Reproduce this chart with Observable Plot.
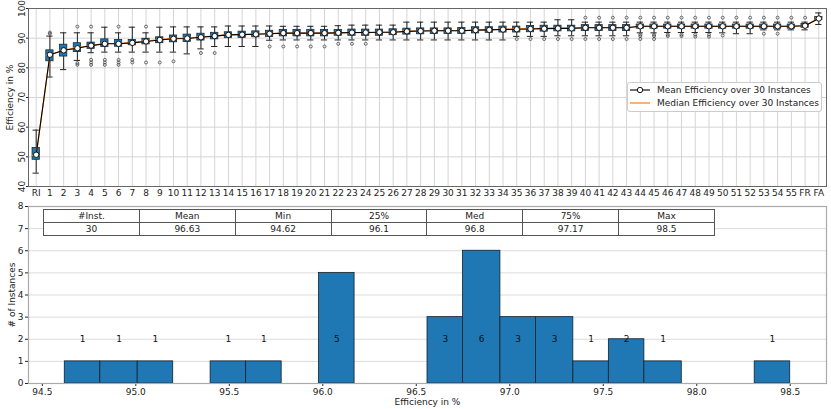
<!DOCTYPE html>
<html>
<head>
<meta charset="utf-8">
<script src="https://cdn.jsdelivr.net/npm/d3@7"></script>
<script src="https://cdn.jsdelivr.net/npm/@observablehq/plot@0.6"></script>
<style>
  body { margin: 0; background: #fff; font-family: "DejaVu Sans", sans-serif; }
  #wrap { position: relative; width: 831px; height: 409px; overflow: hidden; }
  #wrap svg { display: block; }
  #legend { position: absolute; left: 627px; top: 82px; width: 195px; height: 30px; box-sizing: border-box;
    border: 1px solid #ccc; border-radius: 3px; background: rgba(255,255,255,0.9); font-size: 9px; color: #222; }
  #legend .row { position: absolute; left: 2px; height: 12px; display: flex; align-items: center; }
  #legend .row span { margin-left: 7px; white-space: nowrap; }
  #stats { position: absolute; left: 43px; top: 209px; width: 672px; border-collapse: collapse; font-size: 9px; color: #222; background: #fff; table-layout: fixed; }
  #stats td { border: 1px solid #555; text-align: center; height: 12px; padding: 0; line-height: 12px; }
</style>
</head>
<body>
<div id="wrap"></div>
<script>
// ---------- top chart data ----------
const cats = ["RI","1","2","3","4","5","6","7","8","9","10","11","12","13","14","15","16","17","18","19","20",
  "21","22","23","24","25","26","27","28","29","30","31","32","33","34","35","36","37","38","39","40",
  "41","42","43","44","45","46","47","48","49","50","51","52","53","54","55","FR","FA"];
const whiskLo = [44.5,76.9,79.4,82.5,85.1,85.3,85.3,85.3,85.3,85.3,85.3,
  84.7,86.4,87.2,87.2,87.2,87.2,89.3,89.4,89.4,89.4,
  89.4,89.4,89.4,89.4,89.4,89.4,89.4,89.4,89.4,89.4,
  89.4,89.4,89.4,89.4,90.6,90.6,90.6,90.8,90.8,90.8,
  90.8,90.8,90.8,91.8,91.8,91.9,91.9,91.9,91.9,91.8,
  91.5,91.5,92.8,92.8,92.8,92.8,94.62];
const q1 = [49.0,82.2,83.8,85.3,86.4,87.0,87.1,87.6,87.9,88.3,88.6,
  88.7,89.2,89.6,90.0,90.1,90.3,90.4,90.6,90.6,90.6,
  90.6,90.8,90.8,90.8,90.8,91.0,91.2,91.3,91.4,91.4,
  91.4,91.6,91.8,91.9,91.9,92.0,92.2,92.3,92.3,92.4,
  92.4,92.4,92.4,93.2,93.2,93.2,93.2,93.2,93.2,93.2,
  93.2,93.2,93.2,93.2,93.2,93.5,96.1];
const med = [50.5,84.3,86.0,86.8,87.5,88.2,88.2,88.6,89.0,89.5,89.9,
  90.0,90.4,90.8,91.2,91.3,91.4,91.5,91.7,91.7,91.7,
  91.7,91.8,91.9,91.9,92.0,92.0,92.4,92.4,92.5,92.5,
  92.5,92.7,92.9,93.0,93.1,93.2,93.3,93.4,93.4,93.6,
  93.6,93.6,93.6,94.0,94.0,94.0,94.0,94.0,94.0,94.0,
  94.0,94.0,94.0,94.0,94.0,94.2,96.8];
const q3 = [53.0,85.9,87.8,88.3,88.5,89.6,89.4,89.4,89.8,90.3,90.9,
  91.2,91.5,91.8,92.0,92.2,92.3,92.5,92.8,92.8,92.8,
  92.8,92.8,92.9,92.9,92.9,93.0,93.2,93.3,93.3,93.3,
  93.4,93.7,93.7,93.9,93.9,94.1,94.2,94.2,94.2,94.4,
  94.4,94.4,94.4,94.6,94.6,94.6,94.6,94.6,94.6,94.6,
  94.6,94.6,94.6,94.6,94.6,94.8,97.17];
const whiskHi = [59.0,90.7,91.8,91.8,91.8,93.7,91.8,93.7,91.8,93.7,93.8,
  93.8,93.8,93.8,94.1,94.1,94.1,94.1,94.0,94.0,94.0,
  94.0,94.2,94.4,94.4,94.4,94.4,95.4,95.4,95.4,95.4,
  95.4,95.4,95.4,95.4,95.4,95.4,95.4,96.2,96.2,95.4,
  95.4,95.4,95.4,95.4,95.4,95.4,95.4,95.4,95.4,95.4,
  95.4,95.4,95.4,95.4,95.4,95.4,98.5];
const meanEff = [50.7,84.4,85.9,86.6,87.5,88.1,88.1,88.4,88.9,89.4,89.8,
  89.9,90.3,90.7,91.1,91.2,91.3,91.5,91.7,91.7,91.7,
  91.7,91.8,91.9,91.9,92.0,92.0,92.3,92.4,92.5,92.5,
  92.5,92.7,92.8,92.9,93.0,93.1,93.2,93.3,93.3,93.5,
  93.5,93.5,93.5,94.0,94.0,94.0,94.0,94.0,94.0,94.0,
  94.0,94.0,94.0,94.0,94.0,94.2,96.63];
const outliers = [[],[91.5,91.9],[],[93.9,81.6,81.0],[93.9,82.7,81.8,81.0],[82.7,81.8,81.0],[93.9,82.7,81.8,81.0],[82.7,81.8],[93.9,81.8],[81.8],[82.2],
  [],[85.0],[85.0],[],[],[],[87.2],[87.2],[87.2],[87.2],
  [87.2],[88.1],[88.1],[88.1],[],[],[],[],[],[],
  [],[],[],[],[89.7],[89.7],[89.7],[89.7],[89.7],[96.9,89.7],
  [96.9,89.7],[96.9,89.7],[96.9,89.7],[96.9,91.2,90.7,89.7],[96.9,91.2,90.7,89.7],[96.9,91.2,90.7],[96.9,91.2,90.7],[96.9,91.2,90.5],[96.9,91.2,90.5],[96.9,90.9],
  [96.9],[96.9],[96.9,91.5],[96.9,91.5],[96.9],[96.9],[]];
const yTicksTop = [40,50,60,70,80,90,100];

// ---------- histogram data ----------
const binLo = [94.62,94.81,95.01,95.20,95.40,95.59,95.78,95.98,96.17,96.37,96.56,96.75,96.95,97.14,97.34,97.53,97.72,97.92,98.11,98.31];
const binHi = [94.81,95.01,95.20,95.40,95.59,95.78,95.98,96.17,96.37,96.56,96.75,96.95,97.14,97.34,97.53,97.72,97.92,98.11,98.31,98.50];
const counts = [1,1,1,0,1,1,0,5,0,0,3,6,3,3,1,2,1,0,0,1];
const xTicksBot = [94.5,95.0,95.5,96.0,96.5,97.0,97.5,98.0,98.5];
const yTicksBot = [0,1,2,3,4,5,6,7,8];
const tableHead = ["#Inst.","Mean","Min","25%","Med","75%","Max"];
const tableVals = ["30","96.63","94.62","96.1","96.8","97.17","98.5"];

const rows = cats.map((c,i)=>({cat:c, lo:whiskLo[i], q1:q1[i], med:med[i], q3:q3[i], hi:whiskHi[i], mean:meanEff[i]}));
const outRows = outliers.flatMap((a,i)=>a.map(v=>({cat:cats[i], v})));
const bins = binLo.map((x0,i)=>({x0, x1:binHi[i], n:counts[i]})).filter(d=>d.n>0);

const font = {fontFamily:"DejaVu Sans", fontSize:"9px", color:"#222", background:"#fff"};

const topChart = Plot.plot({
  width: 831, height: 200,
  marginLeft: 28, marginRight: 5, marginTop: 8, marginBottom: 14,
  style: font,
  x: {type:"band", domain: cats, paddingInner: 0.47, paddingOuter: 0.295, label: null},
  y: {domain:[40,100], label: null},
  marks: [
    Plot.gridX({stroke:"#d5d5d5", strokeOpacity:1, strokeWidth:1}),
    Plot.gridY({ticks: yTicksTop, stroke:"#d5d5d5", strokeOpacity:1, strokeWidth:1}),
    Plot.ruleX(rows, {x:"cat", y1:"lo", y2:"hi", stroke:"#222", strokeWidth:1}),
    Plot.tickY(rows, {x:"cat", y:"lo", stroke:"#222", insetLeft:0.5, insetRight:0.5}),
    Plot.tickY(rows, {x:"cat", y:"hi", stroke:"#222", insetLeft:0.5, insetRight:0.5}),
    Plot.barY(rows, {x:"cat", y1:"q1", y2:"q3", fill:"#1f77b4", stroke:"#1b2a38", strokeWidth:0.8}),
    Plot.line(rows, {x:"cat", y:"med", stroke:"#ff7f0e", strokeWidth:1.2}),
    Plot.tickY(rows, {x:"cat", y:"med", stroke:"#ff7f0e", strokeWidth:1.2}),
    Plot.line(rows, {x:"cat", y:"mean", stroke:"#000", strokeWidth:1.1}),
    Plot.dot(rows, {x:"cat", y:"mean", r:2.7, fill:"#fff", stroke:"#000", strokeWidth:0.9}),
    Plot.dot(outRows, {x:"cat", y:"v", r:1.5, fill:"none", stroke:"#333", strokeWidth:0.7}),
    Plot.axisX({tickSize:0, tickPadding:3, label:null}),
    Plot.axisY({ticks: yTicksTop, tickSize:2, tickRotate:-90, textAnchor:"middle", lineAnchor:"bottom", tickPadding:2,
      label:"Efficiency in %", labelAnchor:"center", labelArrow:"none", labelOffset:22}),
    Plot.frame({stroke:"#666"})
  ]
});

const botChart = Plot.plot({
  width: 831, height: 209,
  marginLeft: 28, marginRight: 5, marginTop: 6, marginBottom: 26,
  style: font,
  x: {domain:[94.426, 98.694], label: null},
  y: {domain:[0,8], label: null},
  marks: [
    Plot.gridY({ticks: yTicksBot, stroke:"#dcdcdc", strokeOpacity:1}),
    Plot.rectY(bins, {x1:"x0", x2:"x1", y:"n", fill:"#1f77b4", stroke:"#15202b", strokeWidth:0.8}),
    Plot.text(bins, {x: d=>(d.x0+d.x1)/2, y: ()=>2, text: d=>String(d.n), fill:"#111", fontSize:9}),
    Plot.axisX({ticks: xTicksBot, tickFormat: d3.format(".1f"), tickSize:3, tickPadding:2,
      label:"Efficiency in %", labelAnchor:"center", labelArrow:"none", labelOffset:21}),
    Plot.axisY({ticks: yTicksBot, tickSize:3, tickPadding:2,
      label:"# of Instances", labelAnchor:"center", labelArrow:"none", labelOffset:20}),
    Plot.frame({stroke:"#aaa", strokeWidth:1.2})
  ]
});

const wrap = document.getElementById("wrap");
wrap.appendChild(topChart);
wrap.appendChild(botChart);

// legend
const leg = document.createElement("div");
leg.id = "legend";
leg.innerHTML = `
  <div class="row" style="top:1px"><svg width="20" height="12"><line x1="0" x2="20" y1="6" y2="6" stroke="#000" stroke-width="1.1"/><circle cx="10" cy="6" r="2.7" fill="#fff" stroke="#000" stroke-width="0.9"/></svg><span>Mean Efficiency over 30 Instances</span></div>
  <div class="row" style="top:14px"><svg width="20" height="12"><line x1="0" x2="20" y1="6" y2="6" stroke="#ff7f0e" stroke-width="1.2"/></svg><span>Median Efficiency over 30 Instances</span></div>`;
wrap.appendChild(leg);

// stats table
const tbl = document.createElement("table");
tbl.id = "stats";
const tr1 = document.createElement("tr");
tableHead.forEach(h=>{ const td=document.createElement("td"); td.textContent=h; tr1.appendChild(td); });
const tr2 = document.createElement("tr");
tableVals.forEach(v=>{ const td=document.createElement("td"); td.textContent=v; tr2.appendChild(td); });
tbl.appendChild(tr1); tbl.appendChild(tr2);
wrap.appendChild(tbl);
</script>
</body>
</html>
